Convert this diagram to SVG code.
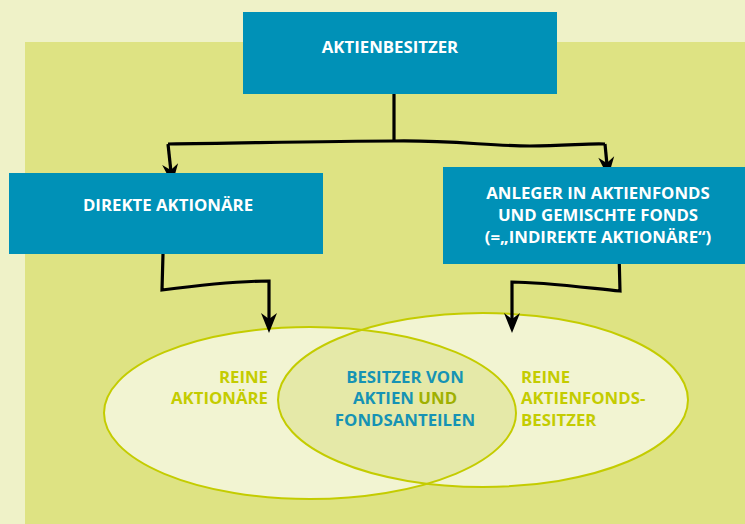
<svg xmlns="http://www.w3.org/2000/svg" width="745" height="524" viewBox="0 0 745 524">
<style>
.box{fill:#0091b7;}
.bt{font-family:"Open Sans","Liberation Sans",sans-serif;font-weight:bold;font-size:16.8px;fill:#ffffff;text-anchor:middle;}
.et{font-family:"Open Sans","Liberation Sans",sans-serif;font-weight:bold;font-size:16.8px;}
.ell{fill:#f2f4d2;}
.eo{fill:none;stroke:#c4cc00;stroke-width:2;}
.con{fill:none;stroke:#000000;stroke-width:3.2;stroke-linejoin:miter;}
</style>
<defs>
<marker id="arr" markerUnits="userSpaceOnUse" markerWidth="30" markerHeight="24" refX="0" refY="0" viewBox="-12 -12 30 24" orient="auto" overflow="visible">
<path d="M12,0 L-8,-8 L-2,0 L-8,8 Z" fill="#000000"/>
</marker>
<clipPath id="clipL"><ellipse cx="310" cy="413" rx="206" ry="86"/></clipPath>
</defs>
<rect x="0" y="0" width="745" height="524" fill="#eff2c8"/>
<rect x="25" y="42" width="720" height="482" fill="#dee383"/>

<g id="venn">
<ellipse class="ell" cx="310" cy="413" rx="206" ry="86"/>
<ellipse class="ell" cx="483" cy="400" rx="205" ry="87"/>
<ellipse cx="483" cy="400" rx="205" ry="87" fill="#e5e9a8" clip-path="url(#clipL)"/>
<ellipse class="eo" cx="310" cy="413" rx="206" ry="86"/>
<ellipse class="eo" cx="483" cy="400" rx="205" ry="87"/>
</g>

<g id="connectors">
<path class="con" d="M394,94 L394,142"/>
<path class="con" d="M168,144 C250,143 330,141 394,141 C450,140 490,146 530,146 C565,146 590,143 605,144"/>
<path class="con" d="M168,144 L171,172" marker-end="url(#arr)"/>
<path class="con" d="M605,144 L607,165" marker-end="url(#arr)"/>
<path class="con" d="M163,254 L162,290 C200,285 240,281 269,281 L269,321" marker-end="url(#arr)"/>
<path class="con" d="M619,252 L620,291 C580,287 540,282 512,282 L512,321" marker-end="url(#arr)"/>
</g>

<g id="node-aktienbesitzer">
<rect class="box" x="243" y="12" width="314" height="82"/>
<text class="bt" x="390" y="53">AKTIENBESITZER</text>
</g>

<g id="node-direkte">
<rect class="box" x="9" y="173" width="314" height="81"/>
<text class="bt" x="168" y="211">DIREKTE AKTIONÄRE</text>
</g>

<g id="node-anleger">
<rect class="box" x="443" y="167" width="302" height="97"/>
<text class="bt" x="598" y="199">ANLEGER IN AKTIENFONDS</text>
<text class="bt" x="598" y="221">UND GEMISCHTE FONDS</text>
<text class="bt" x="598" y="243">(=„INDIREKTE AKTIONÄRE“)</text>
</g>

<g id="node-reine-aktionaere">
<text class="et" x="268" y="383" text-anchor="end" fill="#c4cc00">REINE</text>
<text class="et" x="268" y="404" text-anchor="end" fill="#c4cc00">AKTIONÄRE</text>
</g>

<g id="node-beide">
<text class="et" x="405" y="383" text-anchor="middle" fill="#1693b4">BESITZER VON</text>
<text class="et" x="405" y="404" text-anchor="middle" fill="#1693b4">AKTIEN <tspan fill="#9fb000">UND</tspan></text>
<text class="et" x="405" y="426" text-anchor="middle" fill="#1693b4">FONDSANTEILEN</text>
</g>

<g id="node-reine-fonds">
<text class="et" x="521" y="383" fill="#c4cc00">REINE</text>
<text class="et" x="521" y="404" fill="#c4cc00">AKTIENFONDS-</text>
<text class="et" x="521" y="426" fill="#c4cc00">BESITZER</text>
</g>
</svg>
